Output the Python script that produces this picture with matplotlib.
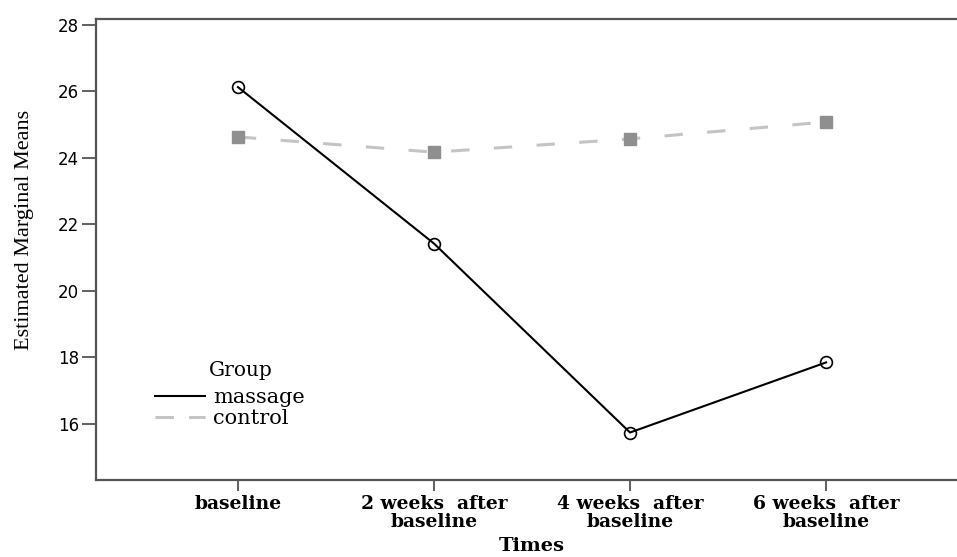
import matplotlib
matplotlib.use("Agg")
import matplotlib.pyplot as plt
from matplotlib.lines import Line2D

times = ["baseline", "2 weeks  after\nbaseline", "4 weeks  after\nbaseline", "6 weeks  after\nbaseline"]
massage = [26.13, 21.42, 15.73, 17.84]
control = [24.63, 24.17, 24.57, 25.08]
y_ticks = [16, 18, 20, 22, 24, 26, 28]

W, H = 957, 557
fig = plt.figure(figsize=(W / 100, H / 100), dpi=100)
# axes runs a bit past the right edge, like the cropped original
ax = fig.add_axes([96 / W, (H - 480) / H, 872 / W, 461 / H])

x = list(range(len(times)))
ax.plot(x, control, color="#c4c4c4", lw=2.2, dashes=(6, 8), zorder=2)
ax.plot(x, control, ls="none", marker="s", ms=8, color="#8f8f8f", zorder=3)
ax.plot(x, massage, color="black", lw=1.5, marker="o", ms=8.5,
        mfc="none", mec="black", mew=1.2, zorder=4)

ax.set_xlim(-0.724, 3.724)
ax.set_ylim(14.30, 28.18)
ax.set_xticks(x)
ax.set_xticklabels(times, family="DejaVu Serif", fontweight="bold",
                   fontsize=13.5, linespacing=1.0, ha="center")
ax.set_yticks(y_ticks)
ax.set_yticklabels([str(v) for v in y_ticks], family="DejaVu Sans", fontsize=12)

ax.tick_params(axis="y", length=10, width=1.2, color="#444444", pad=2)
ax.tick_params(axis="x", length=8, width=1.2, color="#444444", pad=3)
for side in ["left", "bottom", "top", "right"]:
    ax.spines[side].set_color("#555555")
    ax.spines[side].set_linewidth(1.6)

# legend title drawn separately so the gap below it matches
fig.text(241 / W, 1 - 370 / H, "Group", ha="center", va="center",
         family="DejaVu Serif", fontsize=14.5)
handles = [Line2D([], [], color="black", lw=1.5),
           Line2D([], [], color="#c4c4c4", lw=2.2, dashes=(6, 5))]
leg = ax.legend(handles, ["massage", "control"],
                loc="upper left", bbox_to_anchor=(155 / W, 1 - 388 / H),
                bbox_transform=fig.transFigure, frameon=False,
                prop={"family": "DejaVu Serif", "size": 15},
                handlelength=2.4, handletextpad=0.4, labelspacing=0.12,
                borderpad=0, borderaxespad=0)

fig.text(25 / W, 1 - 230 / H, "Estimated Marginal Means", rotation=90,
         ha="center", va="center", family="Liberation Serif", fontsize=16)
fig.text(532 / W, 1 - 551 / H, "Times", ha="center", va="baseline",
         family="DejaVu Serif", fontweight="bold", fontsize=14)

fig.savefig("out.png", dpi=100)
